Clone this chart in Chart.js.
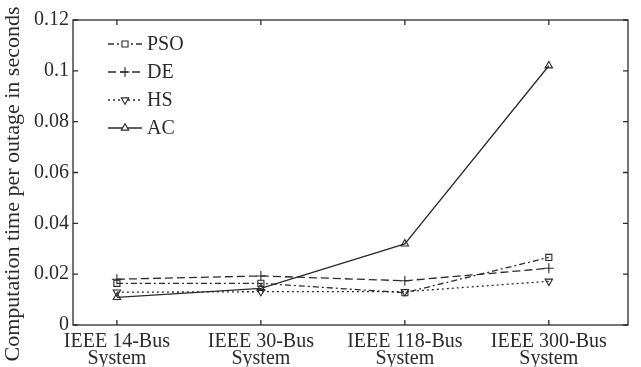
<!DOCTYPE html>
<html>
<head>
<meta charset="utf-8">
<script src="https://cdn.jsdelivr.net/npm/chart.js@4/dist/chart.umd.min.js"></script>
<style>
    html, body { margin: 0; padding: 0; background: #fff; }
    #wrap { width: 641px; height: 367px; }
</style>
</head>
<body>
<div id="wrap"><canvas id="timeChart"></canvas></div>
<script>
// Data
const systems = [["IEEE 14-Bus", "System"], ["IEEE 30-Bus", "System"], ["IEEE 118-Bus", "System"], ["IEEE 300-Bus", "System"]];
const systemPos = [1, 2, 3, 4];
const psoTimes = [0.0164, 0.0164, 0.0127, 0.0266];
const deTimes = [0.0180, 0.0193, 0.0174, 0.0223];
const hsTimes = [0.0129, 0.0131, 0.0131, 0.0172];
const acTimes = [0.0109, 0.0144, 0.0319, 0.1020];
const yTicks = [0, 0.02, 0.04, 0.06, 0.08, 0.1, 0.12];
const yTitle = 'Computation time per outage in seconds';

const ink = '#2b2b2b';
const serif = '"Liberation Serif", "DejaVu Serif", serif';

function points(values) {
    return values.map((v, i) => ({ x: systemPos[i], y: v }));
}

function series(label, values, dash, style, rotation) {
    return {
        label: label,
        data: points(values),
        borderColor: ink,
        backgroundColor: 'rgba(0,0,0,0)',
        borderWidth: 1.3,
        borderDash: dash,
        pointStyle: style,
        rotation: rotation,
        pointRadius: style === 'cross' ? 5 : 4.3,
        pointBorderColor: ink,
        pointBorderWidth: 1.1,
        pointBackgroundColor: 'rgba(0,0,0,0)',
        tension: 0
    };
}

// Box around plot with inward ticks on all four sides, y title, and the legend
const framePlugin = {
    id: 'frame',
    afterDraw(chart) {
        const ctx = chart.ctx;
        const a = chart.chartArea;
        const xs = chart.scales.x;
        const ys = chart.scales.y;
        ctx.save();
        ctx.strokeStyle = ink;
        ctx.lineWidth = 1.3;
        ctx.setLineDash([]);
        ctx.strokeRect(a.left, a.top, a.right - a.left, a.bottom - a.top);
        ctx.beginPath();
        xs.ticks.forEach(t => {
            const px = xs.getPixelForValue(t.value);
            ctx.moveTo(px, a.bottom); ctx.lineTo(px, a.bottom - 5);
            ctx.moveTo(px, a.top); ctx.lineTo(px, a.top + 5);
        });
        ys.ticks.forEach(t => {
            const py = ys.getPixelForValue(t.value);
            ctx.moveTo(a.left, py); ctx.lineTo(a.left + 5, py);
            ctx.moveTo(a.right, py); ctx.lineTo(a.right - 5, py);
        });
        ctx.stroke();

        // y axis title
        ctx.save();
        ctx.translate(13, 184);
        ctx.rotate(-Math.PI / 2);
        ctx.fillStyle = ink;
        ctx.font = '22px ' + serif;
        ctx.textAlign = 'center';
        ctx.textBaseline = 'middle';
        ctx.fillText(yTitle, 0, 0);
        ctx.restore();

        // legend
        const lx = 108, lw = 34, ly = 44, gap = 28;
        chart.data.datasets.forEach((ds, i) => {
            const y = ly + i * gap;
            ctx.strokeStyle = ink;
            ctx.lineWidth = 1.3;
            ctx.setLineDash(ds.borderDash);
            ctx.beginPath();
            ctx.moveTo(lx, y); ctx.lineTo(lx + lw, y);
            ctx.stroke();
            ctx.setLineDash([]);
            ctx.lineWidth = 1.1;
            ctx.fillStyle = '#fff';
            Chart.helpers.drawPoint(ctx, {
                pointStyle: ds.pointStyle,
                rotation: ds.rotation,
                radius: ds.pointRadius,
                borderWidth: 1.1
            }, lx + lw / 2, y);
            ctx.fillStyle = ink;
            ctx.font = '20px ' + serif;
            ctx.textBaseline = 'middle';
            ctx.textAlign = 'left';
            ctx.fillText(ds.label, lx + lw + 5, y + 1);
        });
        ctx.restore();
    }
};

const ctx = document.getElementById('timeChart').getContext('2d');

const timeChart = new Chart(ctx, {
    type: 'line',
    data: {
        datasets: [
            series('PSO', psoTimes, [6, 3, 2, 3], 'rect', 0),
            series('DE', deTimes, [8, 4], 'cross', 0),
            series('HS', hsTimes, [2, 3], 'triangle', 180),
            series('AC', acTimes, [], 'triangle', 0)
        ]
    },
    options: {
        responsive: true,
        maintainAspectRatio: false,
        animation: false,
        layout: {
            padding: { top: 20, right: 13, left: 0, bottom: 0 }
        },
        scales: {
            x: {
                type: 'linear',
                min: 0.695,
                max: 4.55,
                afterBuildTicks: scale => {
                    scale.ticks = systemPos.map(v => ({ value: v }));
                },
                afterFit: scale => { scale.height = 42; },
                grid: { display: false, drawTicks: false },
                border: { display: false },
                ticks: {
                    autoSkip: false,
                    maxRotation: 0,
                    padding: 8,
                    color: ink,
                    font: { family: serif, size: 20, lineHeight: 0.85 },
                    callback: function (value) {
                        const i = systemPos.indexOf(value);
                        return i >= 0 ? systems[i] : '';
                    }
                }
            },
            y: {
                min: 0,
                max: 0.12,
                afterBuildTicks: scale => {
                    scale.ticks = yTicks.map(v => ({ value: v }));
                },
                afterFit: scale => { scale.width = 73; },
                grid: { display: false, drawTicks: false },
                border: { display: false },
                title: { display: false },
                ticks: {
                    padding: 4,
                    color: ink,
                    font: { family: serif, size: 20 },
                    callback: function (value) {
                        return String(+value.toFixed(2));
                    }
                }
            }
        },
        plugins: {
            legend: { display: false },
            tooltip: { enabled: false }
        }
    },
    plugins: [framePlugin]
});
</script>
</body>
</html>
